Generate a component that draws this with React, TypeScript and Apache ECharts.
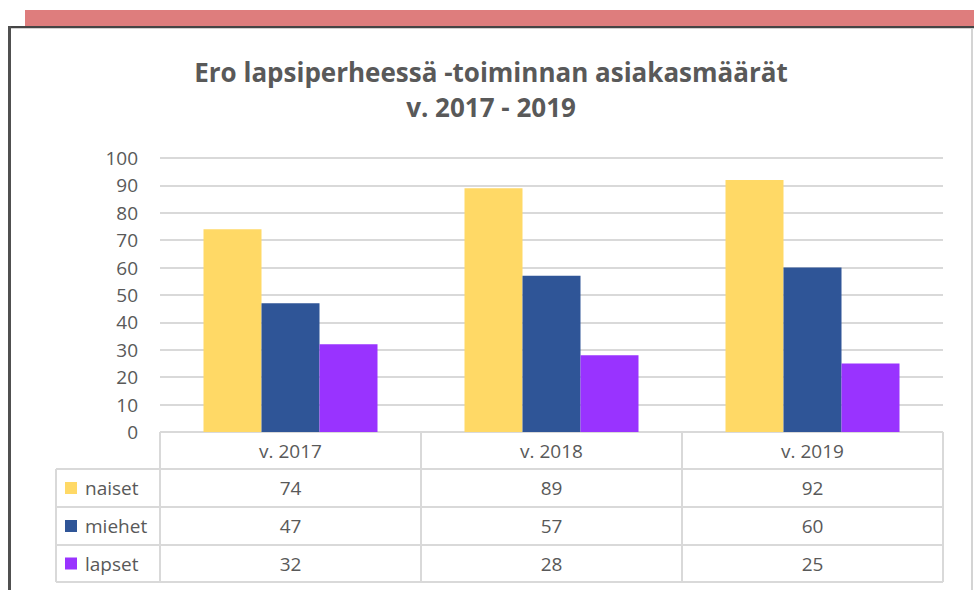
import React, { useEffect, useRef } from "react";
import * as echarts from "echarts";

const categories = ["v. 2017", "v. 2018", "v. 2019"];
const seriesNames = ["naiset", "miehet", "lapset"];
const naiset = [74, 89, 92];
const miehet = [47, 57, 60];
const lapset = [32, 28, 25];
const seriesColors = ["#FFD966", "#2F5597", "#9933FF"];
const titleLines = ["Ero lapsiperheessä -toiminnan asiakasmäärät", "v. 2017 - 2019"];

const FONT = "'Open Sans', Lato, sans-serif";
const TXT = "#595959";
const LINE = "#D9D9D9";

export default function App() {
  const ref = useRef<HTMLDivElement>(null);
  useEffect(() => {
    if (!ref.current) return;
    const chart = echarts.init(ref.current, undefined, { renderer: "svg" });
    const values = [naiset, miehet, lapset];

    const plotL = 160, plotR = 943, plotB = 432;
    const colW = (plotR - plotL) / categories.length;
    const rowY = [432, 469, 507, 545, 582];
    const tableL = 56;

    const g: any[] = [];
    // frame decorations
    g.push({ type: "rect", shape: { x: 25, y: 10, width: 949, height: 16 }, style: { fill: "#DE7D7D" }, silent: true });
    g.push({ type: "rect", shape: { x: 8, y: 26, width: 966, height: 2 }, style: { fill: "#454545" }, silent: true });
    g.push({ type: "rect", shape: { x: 10, y: 28, width: 964, height: 1 }, style: { fill: "#D0D0D0" }, silent: true });
    g.push({ type: "rect", shape: { x: 8, y: 26, width: 3, height: 564 }, style: { fill: "#505050" }, silent: true });
    g.push({ type: "rect", shape: { x: 971, y: 29, width: 2, height: 561 }, style: { fill: "#D4D4D4" }, silent: true });

    // title
    titleLines.forEach((t, i) => {
      g.push({
        type: "text", x: 491, y: 72 + i * 35,
        style: { text: t, fontFamily: FONT, fontWeight: "bold", fontSize: 26, fill: TXT, textAlign: "center", textVerticalAlign: "middle" },
        silent: true,
      });
    });

    // table lines
    const ls = { stroke: LINE, lineWidth: 2 };
    g.push({ type: "line", shape: { x1: plotL, y1: rowY[0], x2: plotR, y2: rowY[0] }, style: ls, silent: true });
    for (let r = 1; r < rowY.length; r++) {
      g.push({ type: "line", shape: { x1: tableL, y1: rowY[r], x2: plotR, y2: rowY[r] }, style: ls, silent: true });
    }
    g.push({ type: "line", shape: { x1: tableL, y1: rowY[1], x2: tableL, y2: rowY[4] }, style: ls, silent: true });
    for (let c = 0; c <= categories.length; c++) {
      const x = plotL + c * colW;
      g.push({ type: "line", shape: { x1: x, y1: rowY[0], x2: x, y2: rowY[4] }, style: ls, silent: true });
    }
    // header texts
    categories.forEach((cat, c) => {
      g.push({
        type: "text", x: plotL + (c + 0.5) * colW, y: (rowY[0] + rowY[1]) / 2,
        style: { text: cat, fontFamily: FONT, fontSize: 19, fill: TXT, textAlign: "center", textVerticalAlign: "middle" },
        silent: true,
      });
    });
    // rows
    seriesNames.forEach((name, s) => {
      const cy = (rowY[s + 1] + rowY[s + 2]) / 2;
      g.push({ type: "rect", shape: { x: 65, y: cy - 6, width: 12, height: 12 }, style: { fill: seriesColors[s] }, silent: true });
      g.push({
        type: "text", x: 85, y: cy,
        style: { text: name, fontFamily: FONT, fontSize: 19, fill: TXT, textAlign: "left", textVerticalAlign: "middle" },
        silent: true,
      });
      values[s].forEach((v, c) => {
        g.push({
          type: "text", x: plotL + (c + 0.5) * colW, y: cy,
          style: { text: String(v), fontFamily: FONT, fontSize: 19, fill: TXT, textAlign: "center", textVerticalAlign: "middle" },
          silent: true,
        });
      });
    });

    chart.setOption({
      animation: false,
      backgroundColor: "#ffffff",
      grid: { left: plotL, right: 974 - plotR, top: 158, bottom: 590 - plotB },
      xAxis: {
        type: "category",
        data: categories,
        axisLine: { show: false },
        axisTick: { show: false },
        axisLabel: { show: false },
      },
      yAxis: {
        type: "value",
        min: 0,
        max: 100,
        interval: 10,
        axisLine: { show: false },
        axisTick: { show: false },
        axisLabel: { color: TXT, fontFamily: FONT, fontSize: 19, margin: 22 },
        splitLine: { lineStyle: { color: LINE, width: 2 } },
      },
      series: seriesNames.map((n, s) => ({
        name: n,
        type: "bar",
        data: values[s],
        barWidth: 58,
        barGap: "0%",
        itemStyle: { color: seriesColors[s] },
      })),
      graphic: g,
    });
    return () => chart.dispose();
  }, []);
  return <div ref={ref} style={{ position: "fixed", left: 0, top: 0, width: 974, height: 590 }} />;
}
